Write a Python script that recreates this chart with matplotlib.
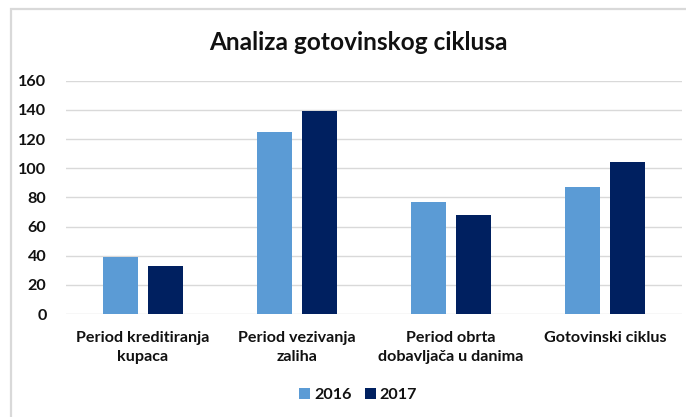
import matplotlib
matplotlib.use("Agg")
import matplotlib.pyplot as plt
import numpy as np
from matplotlib.patches import Rectangle

categories = ["Period kreditiranja\nkupaca", "Period vezivanja\nzaliha",
              "Period obrta\ndobavljača u danima", "Gotovinski ciklus"]
series_names = ["2016", "2017"]
values_2016 = [39, 125, 77, 87]
values_2017 = [33, 139, 68, 104]
yticks = [0, 20, 40, 60, 80, 100, 120, 140, 160]
title = "Analiza gotovinskog ciklusa"

c2016 = "#5b9bd5"
c2017 = "#002060"
text_color = "#111111"
font = "Lato"
fs = 11.6

fig = plt.figure(figsize=(6.86, 4.17), dpi=100)
W, H = 686, 417

# chart-area frame
fig.patches.append(Rectangle((11 / W, -0.1), 1.2, (H - 9) / H + 0.1,
                             transform=fig.transFigure, fill=False,
                             edgecolor="#d9d9d9", linewidth=1.6))

ax = fig.add_axes([66 / W, (H - 314) / H, 616 / W, (314 - 80.7) / H])

x = np.arange(len(categories))
bw = 0.227
gap = 0.06
off = (bw + gap) / 2
ax.bar(x - off, values_2016, width=bw, color=c2016, label=series_names[0], zorder=3)
ax.bar(x + off, values_2017, width=bw, color=c2017, label=series_names[1], zorder=3)

ax.set_xlim(-0.5, len(categories) - 0.5)
ax.set_ylim(0, 160)
ax.set_yticks(yticks)
ax.set_yticklabels([str(t) for t in yticks], fontsize=fs, fontweight="bold",
                   family=font, color=text_color)
ax.set_xticks(x)
ax.set_xticklabels(categories, fontsize=fs, fontweight="bold",
                   family=font, color=text_color, linespacing=1.5)
ax.tick_params(axis="both", length=0)
ax.tick_params(axis="y", pad=14)
ax.tick_params(axis="x", pad=12)
ax.grid(axis="y", color="#d9d9d9", linewidth=1.0, zorder=0)
for s in ax.spines.values():
    s.set_visible(False)

fig.text(358 / W, 1 - 42 / H, title, ha="center", va="center",
         fontsize=17.6, fontweight="bold", family=font, color=text_color)

leg = fig.legend(loc="center", bbox_to_anchor=(358 / W, 1 - 395 / H),
                 ncol=2, frameon=False, handlelength=0.7, handleheight=0.7,
                 handletextpad=0.25, columnspacing=0.8,
                 prop={"family": font, "weight": "bold", "size": fs})
for t in leg.get_texts():
    t.set_color(text_color)

fig.savefig("out.png", dpi=100)
